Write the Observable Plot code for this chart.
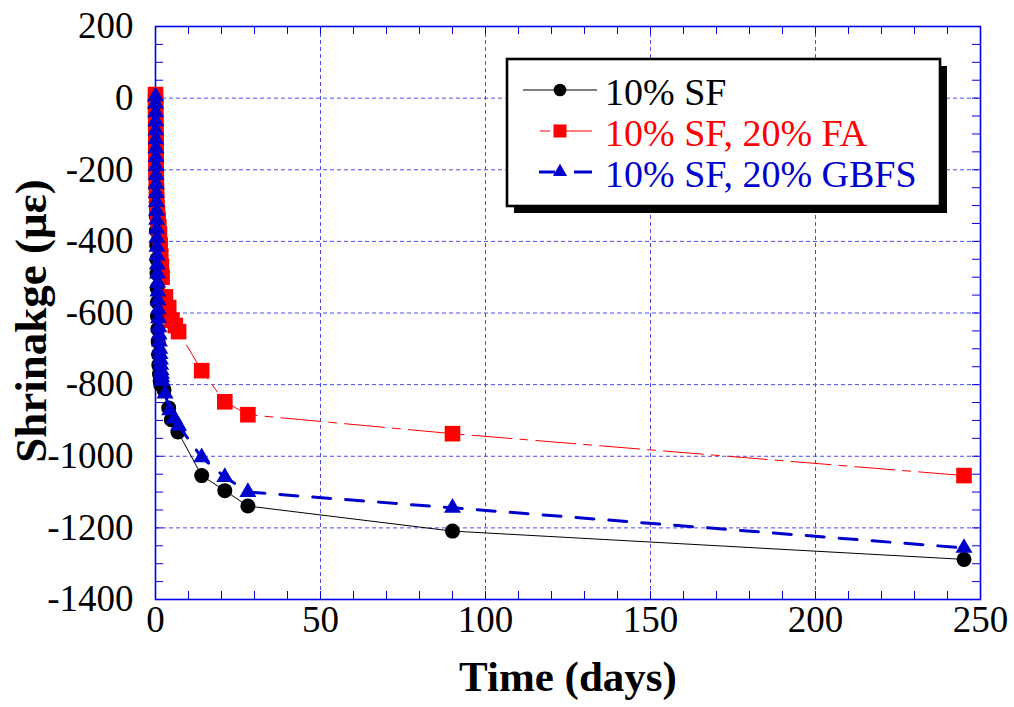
<!DOCTYPE html>
<html><head><meta charset="utf-8">
<script src="https://cdn.jsdelivr.net/npm/d3@7"></script>
<script src="https://cdn.jsdelivr.net/npm/@observablehq/plot@0.6"></script>
<style>body{margin:0;background:#fff}</style>
</head><body><div id="chart"></div>
<script>
// ---- data ----
const sfDays   = [0, 0.02, 0.04, 0.06, 0.08, 0.1, 0.12, 0.15, 0.2, 0.25, 0.3, 0.35, 0.4, 0.45, 0.5, 0.55, 0.6, 0.7, 0.8, 0.9, 1.0, 1.2, 1.4, 1.6, 2.6, 4.0, 4.8, 6.8, 14, 21, 28, 90, 245];
const sfValues = [0, -35, -70, -105, -140, -175, -210, -250, -290, -330, -370, -410, -450, -490, -530, -570, -610, -645, -680, -715, -745, -770, -790, -800, -815, -865, -898, -932, -1054, -1096, -1139, -1209, -1288];

const faDays   = [0, 0.02, 0.04, 0.06, 0.08, 0.1, 0.12, 0.14, 0.16, 0.18, 0.2, 0.22, 0.25, 0.3, 0.35, 0.4, 0.6, 0.8, 1.0, 1.2, 1.4, 1.6, 1.8, 2.0, 3, 4, 5, 6, 7, 14, 21, 28, 90, 245];
const faValues = [10, -10, -30, -50, -70, -90, -110, -130, -150, -170, -190, -210, -235, -260, -285, -305, -320, -340, -360, -380, -410, -440, -470, -500, -555, -585, -620, -635, -652, -761, -848, -884, -937, -1054];

const gbDays   = [0, 0.02, 0.04, 0.06, 0.08, 0.1, 0.12, 0.14, 0.16, 0.18, 0.2, 0.23, 0.26, 0.3, 0.34, 0.38, 0.42, 0.46, 0.5, 0.55, 0.6, 0.66, 0.72, 0.78, 0.85, 0.92, 1.0, 1.1, 1.2, 1.3, 1.4, 1.5, 1.6, 1.7, 1.8, 1.9, 2.0, 2.9, 4.3, 5.7, 7, 14, 21, 28, 90, 245];
const gbValues = [5, -15, -40, -65, -90, -115, -140, -165, -190, -215, -240, -265, -290, -315, -340, -365, -390, -415, -440, -465, -490, -515, -540, -565, -590, -615, -640, -660, -680, -700, -715, -730, -745, -760, -770, -780, -790, -825, -872, -895, -915, -1003, -1058, -1100, -1144, -1256];

const seriesNames = ["10% SF", "10% SF, 20% FA", "10% SF, 20% GBFS"];
const xTicks = [0, 50, 100, 150, 200, 250];
const yTicks = [-1400, -1200, -1000, -800, -600, -400, -200, 0, 200];
const xGrid = [50, 100, 150, 200];
const yGrid = [-1200, -1000, -800, -600, -400, -200, 0];
const xMinor = d3.range(0, 251, 10);
const yMinor = d3.range(-1400, 201, 50);
const xTitle = "Time (days)";
const yTitle = "Shrinakge (\u03bc\u03b5)";

const toRows = (days, vals) => days.map((d, i) => ({t: d, v: vals[i]}));
const sf = toRows(sfDays, sfValues);
const fa = toRows(faDays, faValues);
const gb = toRows(gbDays, gbValues);

// ---- layout/style ----
const W = 1014, H = 707, mL = 155, mR = 34, mT = 26, mB = 108;
const plotW = W - mL - mR, plotH = H - mT - mB;
const frameColor = "#0000ee";
const gridColor = "#4a4aee";
const tickLen = 8;
const black = "#000000", red = "#ff0000", blue = "#0000cc";
const serif = "'Liberation Serif', 'Times New Roman', Times, serif";

const chart = Plot.plot({
  width: W, height: H,
  marginLeft: mL, marginRight: mR, marginTop: mT, marginBottom: mB,
  x: {domain: [0, 250]},
  y: {domain: [-1400, 200]},
  style: {fontFamily: serif, background: "white", color: "black"},
  marks: [
    Plot.gridX(xGrid, {stroke: gridColor, strokeOpacity: 1, strokeWidth: 1, strokeDasharray: "4,3"}),
    Plot.gridY(yGrid, {stroke: gridColor, strokeOpacity: 1, strokeWidth: 1, strokeDasharray: "4,3"}),
    Plot.tickX(xMinor, {x: d => d, stroke: frameColor, insetTop: plotH - tickLen}),
    Plot.tickX(xMinor, {x: d => d, stroke: frameColor, insetBottom: plotH - tickLen}),
    Plot.tickY(yMinor, {y: d => d, stroke: frameColor, insetRight: plotW - tickLen}),
    Plot.tickY(yMinor, {y: d => d, stroke: frameColor, insetLeft: plotW - tickLen}),
    Plot.frame({stroke: frameColor, strokeWidth: 1.6}),
    Plot.axisX(xTicks, {tickSize: 0, tickPadding: 6, fontSize: 37, tickFormat: d => String(d), label: null, fill: "black"}),
    Plot.axisY(yTicks, {tickSize: 0, tickPadding: 22, fontSize: 37, tickFormat: d => String(d), label: null, fill: "black"}),
    Plot.text([xTitle], {text: d => d, frameAnchor: "bottom", lineAnchor: "middle", textAnchor: "middle", dy: 78, fontSize: 43, fontWeight: "bold", fill: "black"}),
    Plot.text([yTitle], {text: d => d, frameAnchor: "left", lineAnchor: "middle", textAnchor: "middle", rotate: -90, dx: -124, dy: 8, fontSize: 45, fontWeight: "bold", fill: "black"}),
    Plot.line(sf, {x: "t", y: "v", stroke: black, strokeWidth: 1}),
    Plot.dot(sf, {x: "t", y: "v", r: 7.5, fill: black, symbol: "circle"}),
    Plot.line(fa, {x: "t", y: "v", stroke: red, strokeWidth: 1, strokeDasharray: "40,8,8,8"}),
    Plot.dot(fa, {x: "t", y: "v", r: 8.8, fill: red, symbol: "square"}),
    Plot.line(gb, {x: "t", y: "v", stroke: blue, strokeWidth: 3, strokeDasharray: "18,15"}),
    Plot.dot(gb, {x: "t", y: "v", r: 6.3, fill: blue, symbol: "triangle"})
  ]
});
document.getElementById("chart").appendChild(chart);

// ---- legend ----
const svg = d3.select(chart);
const lg = svg.append("g").attr("font-family", serif).attr("text-anchor", "start");
lg.append("rect").attr("x", 514).attr("y", 66).attr("width", 433).attr("height", 147).attr("fill", "black");
lg.append("rect").attr("x", 507).attr("y", 59).attr("width", 433).attr("height", 147)
  .attr("fill", "white").attr("stroke", "black").attr("stroke-width", 2.6);
const legendItems = [
  {name: seriesNames[0], color: black, sym: d3.symbolCircle, size: Math.PI * 6.3 * 6.3, x1: 523, x2: 597, width: 1, dash: null},
  {name: seriesNames[1], color: red, sym: d3.symbolSquare, size: 13 * 13, x1: 540, x2: 592, width: 1.2, dash: "10,4,100"},
  {name: seriesNames[2], color: blue, sym: d3.symbolTriangle, size: Math.PI * 5.3 * 5.3, x1: 539, x2: 592, width: 3, dash: "16,19,20"}
];
legendItems.forEach((it, i) => {
  const y = 90 + i * 41;
  lg.append("line").attr("x1", it.x1).attr("x2", it.x2).attr("y1", y).attr("y2", y)
    .attr("stroke", it.color).attr("stroke-width", it.width).attr("stroke-dasharray", it.dash);
  lg.append("path").attr("d", d3.symbol(it.sym, it.size)()).attr("transform", `translate(560,${y})`).attr("fill", it.color);
  lg.append("text").attr("x", 605).attr("y", y + 15).attr("font-size", 38).attr("fill", it.color)
    .attr("text-anchor", "start").text(it.name);
});
</script>
</body></html>
